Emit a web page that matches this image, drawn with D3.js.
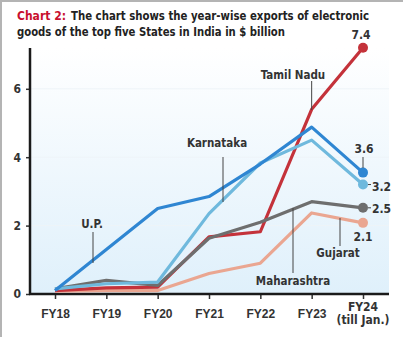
<!DOCTYPE html>
<html>
<head>
<meta charset="utf-8">
<script src="https://cdn.jsdelivr.net/npm/d3@7"></script>
<style>
  body { margin: 0; background: #fff; }
  svg { display: block; font-family: "Liberation Sans Narrow", "DejaVu Sans Condensed", "Roboto", sans-serif; }
</style>
</head>
<body>
<div id="chart"></div>
<script>
// Data ($ billion)
var years = ["FY18", "FY19", "FY20", "FY21", "FY22", "FY23", "FY24"];
var up          = [0.1, 1.3, 2.5, 2.85, 3.8, 4.88, 3.55];
var karnataka   = [0.15, 0.3, 0.35, 2.35, 3.83, 4.5, 3.2];
var tamilNadu   = [0.1, 0.18, 0.2, 1.67, 1.82, 5.4, 7.2];
var maharashtra = [0.15, 0.4, 0.25, 1.63, 2.1, 2.7, 2.52];
var gujarat     = [0.08, 0.1, 0.1, 0.6, 0.9, 2.37, 2.08];
var endLabels   = ["3.6", "3.2", "7.4", "2.5", "2.1"];
var yTicks = [0, 2, 4, 6];

var svgWidth = 407;
var svgHeight = 337;

var svg = d3.select("#chart")
  .append("svg")
  .attr("width", svgWidth)
  .attr("height", svgHeight);

// frame (left + top grey rule)
svg.append("line").attr("x1", 1).attr("x2", 1).attr("y1", 0).attr("y2", svgHeight)
  .attr("stroke", "#b4b4b4").attr("stroke-width", 2);
svg.append("line").attr("x1", 0).attr("x2", 403).attr("y1", 1).attr("y2", 1)
  .attr("stroke", "#b4b4b4").attr("stroke-width", 2);

// title
svg.append("text").attr("x", 17).attr("y", 20)
  .attr("font-size", 12.5).attr("font-weight", "bold").attr("fill", "#c8102e")
  .attr("textLength", 49).attr("lengthAdjust", "spacingAndGlyphs")
  .text("Chart 2:");
svg.append("text").attr("x", 71).attr("y", 20)
  .attr("font-size", 12.5).attr("font-weight", "bold").attr("fill", "#222")
  .attr("textLength", 298).attr("lengthAdjust", "spacingAndGlyphs")
  .text("The chart shows the year-wise exports of electronic");
svg.append("text").attr("x", 17).attr("y", 36)
  .attr("font-size", 12.5).attr("font-weight", "bold").attr("fill", "#222")
  .attr("textLength", 268).attr("lengthAdjust", "spacingAndGlyphs")
  .text("goods of the top five States in India in $ billion");

// plot area
var plot = { left: 30, right: 389, top: 48, bottom: 294 };

var x = d3.scalePoint()
  .domain(years)
  .range([55, 363]);

var y = d3.scaleLinear()
  .domain([0, 7.4])
  .range([plot.bottom, plot.bottom - 7.4 * 34.2]);

// background gradient
var defs = svg.append("defs");
var grad = defs.append("linearGradient").attr("id", "bg")
  .attr("x1", 0).attr("x2", 0).attr("y1", 0).attr("y2", 1);
grad.append("stop").attr("offset", "0%").attr("stop-color", "#ffffff");
grad.append("stop").attr("offset", "100%").attr("stop-color", "#dff0fb");

svg.append("rect")
  .attr("x", plot.left).attr("y", plot.top)
  .attr("width", plot.right - plot.left)
  .attr("height", plot.bottom - plot.top)
  .attr("fill", "url(#bg)");

// faint gridlines
svg.selectAll(".grid").data(yTicks.filter(d => d > 0)).enter()
  .append("line")
  .attr("x1", plot.left).attr("x2", plot.right)
  .attr("y1", d => y(d)).attr("y2", d => y(d))
  .attr("stroke", "#eef4f8").attr("stroke-width", 1);

// y axis
var leftAxis = d3.axisLeft(y).tickValues(yTicks).tickSize(4).tickPadding(5);
var yAxisG = svg.append("g")
  .attr("transform", `translate(${plot.left}, 0)`)
  .call(leftAxis);
yAxisG.select(".domain").remove();
yAxisG.selectAll(".tick line").attr("stroke", "#333").attr("stroke-width", 1.5);
yAxisG.selectAll(".tick text")
  .attr("font-size", 12).attr("font-weight", "bold").attr("fill", "#333")
  .attr("font-family", "'DejaVu Sans Condensed', sans-serif");
svg.append("line")
  .attr("x1", plot.left).attr("x2", plot.left)
  .attr("y1", plot.top).attr("y2", plot.bottom + 1)
  .attr("stroke", "#1a1a1a").attr("stroke-width", 2.5);

// x axis
var bottomAxis = d3.axisBottom(x).tickSize(5).tickPadding(10);
var xAxisG = svg.append("g")
  .attr("transform", `translate(0, ${plot.bottom})`)
  .call(bottomAxis);
xAxisG.select(".domain").remove();
xAxisG.selectAll(".tick line").attr("stroke", "#333").attr("stroke-width", 1.5);
xAxisG.selectAll(".tick text")
  .attr("font-size", 12).attr("fill", "#333")
  .attr("font-weight", "bold")
  .text(d => d === "FY24" ? "" : d);
svg.append("line")
  .attr("x1", plot.left - 1).attr("x2", plot.right)
  .attr("y1", plot.bottom).attr("y2", plot.bottom)
  .attr("stroke", "#1a1a1a").attr("stroke-width", 2.5);

// FY24 two-line label
var fy24 = svg.append("text").attr("text-anchor", "middle")
  .attr("font-size", 12).attr("font-weight", "bold").attr("fill", "#333");
fy24.append("tspan").attr("x", x("FY24")).attr("y", 311).text("FY24");
fy24.append("tspan").attr("x", x("FY24")).attr("y", 324).text("(till Jan.)");

// series (drawing order = stacking order)
var series = [
  { name: "Gujarat", values: gujarat, color: "#eaa691" },
  { name: "Tamil Nadu", values: tamilNadu, color: "#c4323a" },
  { name: "Maharashtra", values: maharashtra, color: "#6e6e6e" },
  { name: "Karnataka", values: karnataka, color: "#6fb9dd" },
  { name: "U.P.", values: up, color: "#2f86d2" }
];

var line = d3.line()
  .x((d, i) => x(years[i]))
  .y(d => y(d));

svg.selectAll(".series").data(series).enter()
  .append("path")
  .attr("d", d => line(d.values))
  .attr("fill", "none")
  .attr("stroke", d => d.color)
  .attr("stroke-width", 3.2)
  .attr("stroke-linejoin", "round");

svg.selectAll(".enddot").data(series).enter()
  .append("circle")
  .attr("cx", x("FY24"))
  .attr("cy", d => y(d.values[6]))
  .attr("r", 5)
  .attr("fill", d => d.color);

// annotations
function leader(x1, y1, x2, y2) {
  svg.append("line").attr("x1", x1).attr("x2", x2).attr("y1", y1).attr("y2", y2)
    .attr("stroke", "#444").attr("stroke-width", 1);
}
function label(txt, lx, ly, anchor, size) {
  svg.append("text").attr("x", lx).attr("y", ly)
    .attr("text-anchor", anchor || "middle")
    .attr("font-size", size || 11.5).attr("font-weight", "bold").attr("fill", "#333")
    .text(txt);
}

var xe = x("FY24");
// end values
label(endLabels[2], xe - 2, 39, "middle", 12);
label(endLabels[0], xe + 1, 153, "middle", 12);
leader(xe, 157, xe, 168);
label(endLabels[1], 372, 191, "start", 12);
leader(xe + 5, y(karnataka[6]), 371, y(karnataka[6]));
label(endLabels[3], 372, 213, "start", 12);
leader(xe + 5, y(maharashtra[6]), 371, y(maharashtra[6]));
label(endLabels[4], xe, 241, "middle", 12);

// state names
label("Tamil Nadu", 293, 79);
leader(x("FY23"), 81, x("FY23"), 110);
label("Karnataka", 217, 147);
leader(223, 157, 223, 202);
label("U.P.", 92, 228);
leader(93, 232, 93, 263);
label("Maharashtra", 293, 285);
leader(293, 208, 293, 273);
label("Gujarat", 338, 257);
leader(340, 218, 340, 246);
</script>
</body>
</html>
